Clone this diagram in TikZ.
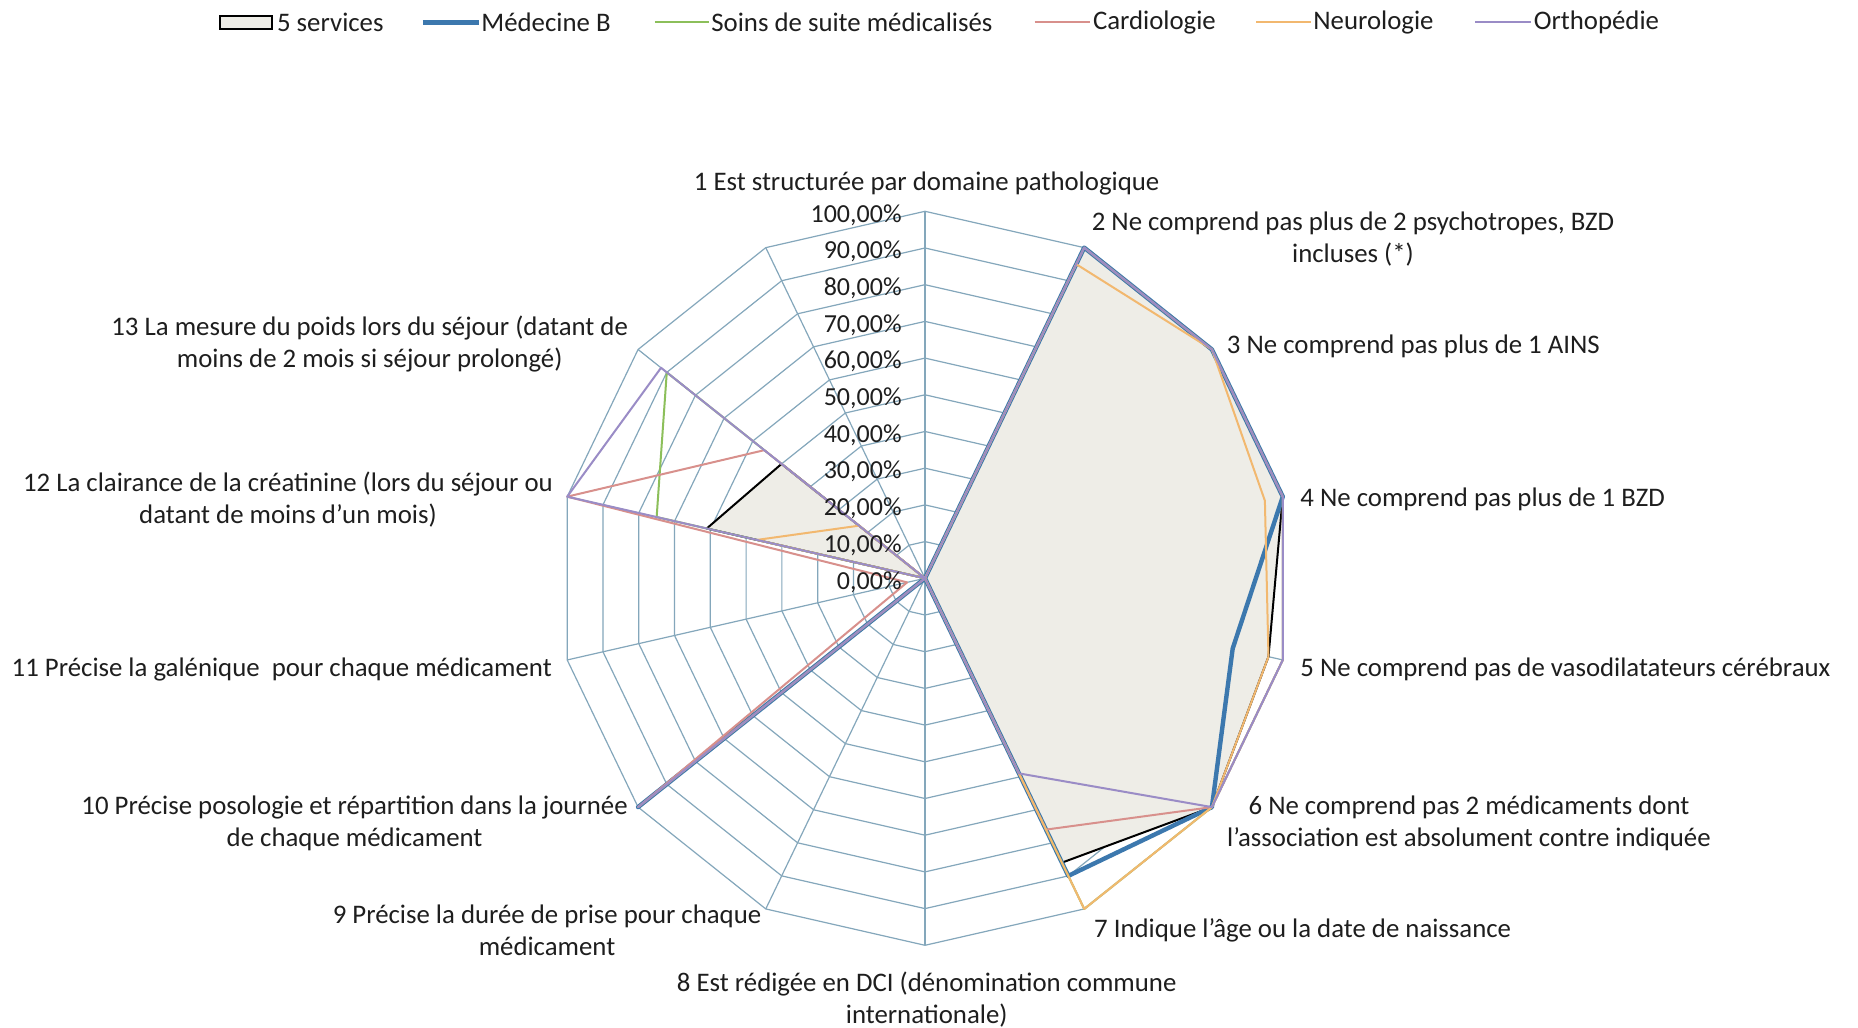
\documentclass[tikz,border=0pt]{standalone}
\usepackage{fontspec}
\setmainfont{Carlito}
\definecolor{gridc}{HTML}{84A7BB}
\definecolor{fillc}{HTML}{EEEDE7}
\definecolor{bluec}{HTML}{3C78AE}
\definecolor{greenc}{HTML}{8CBF5A}
\definecolor{redc}{HTML}{D8908C}
\definecolor{orangec}{HTML}{F2B86F}
\definecolor{purplec}{HTML}{9A8CC6}
\definecolor{textc}{HTML}{1E1E1E}
\newcommand\radarseries[2]{%
  \draw[#1] (0,0) \foreach \v [count=\k] in {#2}{ -- ({90-(\k-1)*360/14}:{\v*3.67}) } -- cycle;
}
\begin{document}
\begin{tikzpicture}[x=0.5pt,y=0.5pt,
  font=\fontsize{13.4}{16}\selectfont,
  every node/.style={text=textc, inner sep=0pt},
  gridline/.style={draw=gridc, line width=0.6pt},
  seriesline/.style={line width=1pt, line join=round},
  svc/.style={seriesline, draw=black, fill=fillc},
  medb/.style={line width=2.2pt, line join=round, draw=bluec},
  ssr/.style={seriesline, draw=greenc},
  cardio/.style={seriesline, draw=redc},
  neuro/.style={seriesline, draw=orangec},
  ortho/.style={seriesline, draw=purplec},
  ticklbl/.style={anchor=east, font=\fontsize{13}{16}\selectfont},
  catlbl/.style={align=center}]
\useasboundingbox (-925,-449.7) rectangle (933,578.3);
\fill[white] (-925,-449.7) rectangle (933,578.3);

% grid rings
\foreach \r in {1,...,10}{
  \draw[gridline] (90:{\r*36.7}) \foreach \k in {1,...,13}{ -- ({90-\k*360/14}:{\r*36.7}) } -- cycle;
}
% spokes
\foreach \k in {0,...,13}{
  \draw[gridline] (0,0) -- ({90-\k*360/14}:367);
}

% series
\radarseries{svc}{0,100,100,100,96,100,86,0,0,100,0,61,50,0}
\radarseries{medb}{0,100,100,100,86,100,90,0,0,100,0,0,0,0}
\radarseries{ssr}{0,100,100,100,100,100,100,0,0,100,0,75,90,0}
\radarseries{cardio}{0,100,100,100,100,100,76,0,0,100,5,100,56,0}
\radarseries{neuro}{0,95,100,95,96,100,100,0,0,0,0,47,23,0}
\radarseries{ortho}{0,100,100,100,100,100,59,0,0,100,0,100,92,0}

% tick labels
\foreach \t [count=\i from 0] in {0,10,20,30,40,50,60,70,80,90,100}{
  \node[ticklbl] (tick\i) at (-23,{\i*36.7-3.5}) {\t,00\%};
}

% category labels
\node[catlbl] (c1) at (1.6,394.6) {1 Est structurée par domaine pathologique};
\node[catlbl] (c2) at (428,339.5) {2 Ne comprend pas plus de 2 psychotropes, BZD\\incluses (*)};
\node[anchor=west] (c3) at (301.5,232.2) {3 Ne comprend pas plus de 1 AINS};
\node[anchor=west] (c4) at (375,79.4) {4 Ne comprend pas plus de 1 BZD};
\node[anchor=west] (c5) at (375,-91.3) {5 Ne comprend pas de vasodilatateurs cérébraux};
\node[catlbl] (c6) at (544,-244.7) {6 Ne comprend pas 2 médicaments dont\\l’association est absolument contre indiquée};
\node[anchor=west] (c7) at (168.8,-352) {7 Indique l’âge ou la date de naissance};
\node[catlbl] (c8) at (1.7,-421.3) {8 Est rédigée en DCI (dénomination commune\\internationale)};
\node[catlbl] (c9) at (-378,-352) {9 Précise la durée de prise pour chaque\\médicament};
\node[catlbl] (c10) at (-570.4,-244.7) {10 Précise posologie et répartition dans la journée\\de chaque médicament};
\node[anchor=east] (c11) at (-372.8,-91.3) {11 Précise la galénique\ \ pour chaque médicament};
\node[catlbl] (c12) at (-637,78.9) {12 La clairance de la créatinine (lors du séjour ou\\datant de moins d'un mois)};
\node[catlbl] (c13) at (-555.3,234) {13 La mesure du poids lors du séjour (datant de\\moins de 2 mois si séjour prolongé)};

% legend
\draw[line width=1pt, draw=black, fill=fillc] (-705,549.2) rectangle (-653.3,562.6);
\node[anchor=west] (l1) at (-648.3,555.9) {5 services};
\coordinate (l2a) at (-502,555.9); \coordinate (l2b) at (-446.3,555.9);
\draw[medb] (l2a) -- (l2b);
\node[anchor=west] (l2) at (-444,555.9) {Médecine B};
\coordinate (l3a) at (-270,555.9); \coordinate (l3b) at (-216.4,555.9);
\draw[ssr] (l3a) -- (l3b);
\node[anchor=west] (l3) at (-214,555.9) {Soins de suite médicalisés};
\coordinate (l4a) at (109.5,555.9); \coordinate (l4b) at (165,555.9);
\draw[cardio] (l4a) -- (l4b);
\node[anchor=west] (l4) at (167.6,555.9) {Cardiologie};
\coordinate (l5a) at (331,555.9); \coordinate (l5b) at (385.6,555.9);
\draw[neuro] (l5a) -- (l5b);
\node[anchor=west] (l5) at (388,555.9) {Neurologie};
\coordinate (l6a) at (550,555.9); \coordinate (l6b) at (606,555.9);
\draw[ortho] (l6a) -- (l6b);
\node[anchor=west] (l6) at (608.4,555.9) {Orthopédie};
\end{tikzpicture}
\end{document}
